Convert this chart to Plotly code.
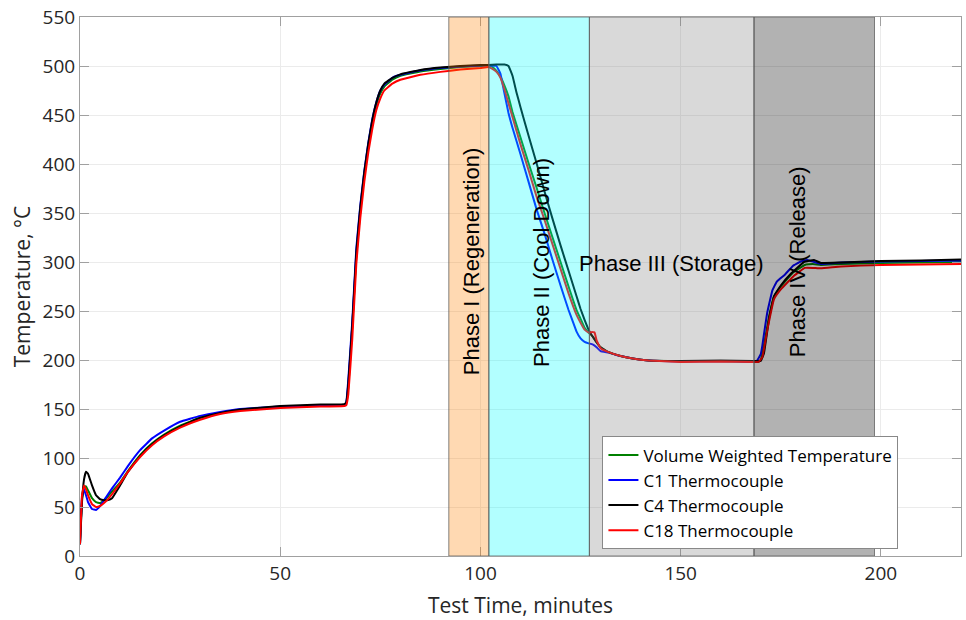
import plotly.graph_objects as go

# ---------------- data ----------------
green_t = [0, 0.5, 1, 1.5, 2, 3, 4, 5, 6, 7, 8, 10, 12, 15, 18, 21, 25, 30, 35, 40, 50, 60, 66, 66.5, 67, 68, 69, 70, 71, 72, 73, 74, 75, 76, 78, 80, 85, 90, 95, 100, 102,
           103, 104, 105, 106, 107, 108, 110, 112, 114, 116, 118, 120, 122, 124, 125, 126, 127, 128, 129, 130, 132, 135, 138, 142, 150, 160, 168, 169.5,
           170, 171, 172, 173.3, 175, 178, 181, 183, 185, 190, 200, 210, 220]
green_v = [12, 58, 71, 71, 67, 59, 55, 54, 57, 61, 66, 75, 87, 103, 115, 124, 133, 141, 146, 149, 152, 153.5, 154, 156, 172, 235, 306, 352, 389, 418, 442, 460, 472, 479, 486, 490, 494.5, 497, 499, 500, 500.5,
           499, 495, 489, 480, 469, 453, 427, 401, 376, 350, 325, 300, 275, 251, 242, 233, 228, 224, 218, 213, 208, 204, 201.5, 199.5, 199, 199, 198.5, 198.5,
           200, 220, 243, 265, 275, 289, 297, 298, 297, 298, 299, 299.5, 300]

blue_t = [0, 0.5, 1, 1.5, 2, 3, 4, 5, 6, 7, 8, 10, 12, 15, 18, 21, 25, 30, 35, 40, 50, 60, 66, 66.5, 67, 68, 69, 70, 71, 72, 73, 74, 75, 76, 78, 80, 85, 90, 95, 100, 102,
          104, 105, 105.5, 106, 107, 108, 110, 112, 114, 116, 118, 120, 122, 123, 124, 125, 126, 127, 128, 129, 130, 132, 135, 138, 142, 150, 160, 168, 169,
          170, 170.4, 171, 171.6, 172.9, 174, 176, 178, 180, 181.6, 183.3, 185, 190, 200, 210, 220]
blue_v = [12, 60, 68, 62, 55, 48, 47, 51, 57, 63, 69, 80, 92, 108, 120, 128, 137, 143, 147, 150, 152.5, 153.5, 154, 157, 180, 240, 314, 358, 393, 422, 446, 463, 475, 481, 488, 491, 495.5, 498, 499.5, 500.5, 500.5,
          500, 492, 482, 472, 452, 437, 410, 382, 354, 329, 302, 276, 251, 240, 229, 222, 218.5, 217, 216, 213, 209, 207.5, 204, 201.5, 199.5, 198.5, 199, 198, 199,
          206, 215, 232, 248, 271, 280, 287, 296, 300.5, 302, 300, 298, 299.5, 300.5, 301, 301.5]

black_t = [0, 0.5, 1, 1.5, 2, 3, 4, 5, 6, 7, 8, 10, 12, 15, 18, 21, 25, 30, 35, 40, 50, 60, 66, 66.5, 67, 68, 69, 70, 71, 72, 73, 74, 75, 76, 78, 80, 85, 90, 95, 100, 102,
           104, 106, 107, 108, 109, 110, 112, 114, 116, 118, 120, 122, 124, 125, 126, 127, 128, 129, 130, 132, 135, 138, 142, 150, 160, 168, 170,
           170.8, 171.5, 172.1, 173.3, 175, 177.5, 180.8, 183.3, 185, 190, 200, 210, 220]
black_v = [12, 55, 78, 86, 84, 72, 62, 58, 57, 57, 59, 72, 86, 102, 114, 123, 132, 141, 146, 149.5, 153, 154.5, 155, 157, 176, 236, 310, 356, 392, 421, 445, 463, 475, 482, 488, 491.5, 496, 498.5, 500, 501, 501,
           501.5, 501.5, 500, 490, 473, 458, 429, 401, 372, 344, 317, 291, 265, 252, 241, 231, 224, 218, 213, 208, 204, 201.5, 199.5, 199, 199.5, 199, 199,
           207, 226, 243, 265, 276, 288, 300, 302, 299, 299.5, 301, 301.5, 302.5]

red_t = [0, 0.5, 1, 1.5, 2, 3, 4, 5, 6, 7, 8, 10, 12, 15, 18, 21, 25, 30, 35, 40, 50, 60, 66, 66.5, 67, 68, 69, 70, 71, 72, 73, 74, 75, 76, 78, 80, 85, 90, 95, 100, 102,
         103, 104, 105, 106, 108, 110, 112, 114, 116, 118, 120, 122, 124, 125, 126, 127, 128, 128.5, 129, 130, 132, 135, 138, 142, 150, 160, 168, 169.5,
         170.4, 171.6, 173.3, 175, 178.3, 181, 183, 185, 190, 200, 210, 220]
red_v = [12, 62, 72, 68, 62, 53, 50, 51, 54, 58, 63, 74, 86, 101, 113, 122, 131, 139, 145, 148, 151, 152.5, 153, 154, 165, 222, 298, 345, 382, 412, 436, 455, 467, 475, 482, 486, 491, 494, 496.5, 498, 499,
         497, 494, 488, 476, 448, 420, 394, 367, 343, 318, 293, 268, 246, 238, 231, 228, 228.5, 228, 220, 212, 208, 204, 201.5, 199.5, 198, 198.5, 198, 198,
         203, 230, 262, 272, 286, 294, 294, 293.5, 295.5, 297, 297.5, 298]

phase_starts = [92.1, 102.1, 127.2, 168.3]
phase_ends = [102.1, 127.2, 168.3, 198.4]
phase_fills = ["rgba(255,128,0,0.3)", "rgba(0,255,255,0.3)", "rgba(128,128,128,0.3)", "rgba(0,0,0,0.3)"]
phase_labels = ["Phase I (Regeneration)", "Phase II (Cool Down)", "Phase III (Storage)", "Phase IV (Release)"]
label_x = [97.7, 115.1, 147.8, 179.1]
label_y = [300, 300, 298, 300]
label_angle = [-90, -90, 0, -90]

series = [
    ("Volume Weighted Temperature", green_t, green_v, "#008000"),
    ("C1 Thermocouple", blue_t, blue_v, "#0000FF"),
    ("C4 Thermocouple", black_t, black_v, "#000000"),
    ("C18 Thermocouple", red_t, red_v, "#FF0000"),
]

x_ticks = [0, 50, 100, 150, 200]
y_ticks = [0, 50, 100, 150, 200, 250, 300, 350, 400, 450, 500, 550]

# ---------------- figure ----------------
fig = go.Figure()
for name, t, v, c in series:
    fig.add_trace(go.Scatter(x=t, y=v, name=name, mode="lines",
                             line=dict(color=c, width=2, shape="spline", smoothing=0.25)))

for x0, x1, fc in zip(phase_starts, phase_ends, phase_fills):
    fig.add_shape(type="rect", xref="x", yref="y", x0=x0, x1=x1, y0=0, y1=550,
                  fillcolor=fc, line=dict(color="rgba(90,90,90,0.75)", width=1), layer="above")

for txt, lx, ly, ang in zip(phase_labels, label_x, label_y, label_angle):
    fig.add_annotation(x=lx, y=ly, xref="x", yref="y", text=txt, showarrow=False,
                       textangle=ang, font=dict(family="Liberation Sans, Arial", size=22, color="#000000"))

axis_common = dict(showgrid=True, gridcolor="#ebebeb", gridwidth=1, zeroline=False,
                   showline=True, linecolor="#a0a0a0", linewidth=1, mirror="ticks",
                   ticks="inside", ticklen=9, tickcolor="#a0a0a0",
                   tickfont=dict(family="Open Sans", size=19, color="#262626"))

fig.update_xaxes(range=[0, 220], tickvals=x_ticks,
                 title=dict(text="Test Time, minutes", font=dict(family="Open Sans", size=21, color="#262626"), standoff=13),
                 **axis_common)
fig.update_yaxes(range=[0, 550], tickvals=y_ticks,
                 title=dict(text="Temperature, °C", font=dict(family="Open Sans", size=21, color="#262626"), standoff=6),
                 **axis_common)

fig.update_layout(
    width=966, height=620,
    margin=dict(l=80, r=4, t=15, b=64),
    paper_bgcolor="white", plot_bgcolor="white",
    showlegend=True,
    legend=dict(x=0.593, y=0.222, xanchor="left", yanchor="top",
                bgcolor="white", bordercolor="#888888", borderwidth=1,
                font=dict(family="Open Sans", size=17, color="#000000"),
                itemwidth=30, tracegroupgap=0),
)

fig.write_html("out.html")
